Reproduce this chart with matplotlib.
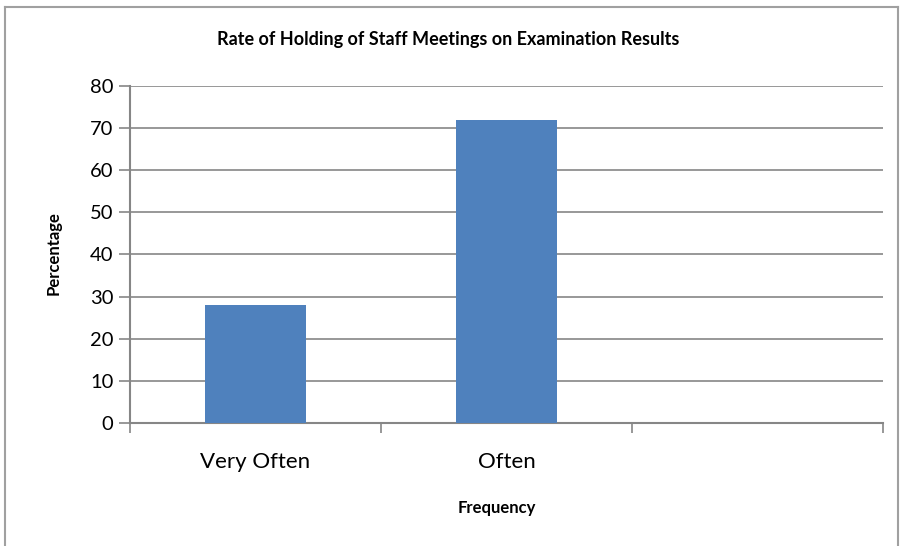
import matplotlib.pyplot as plt

# Données
categories = ["Very Often", "Often", ""]
percentages = [28, 72, 0]
y_ticks = [0, 10, 20, 30, 40, 50, 60, 70, 80]

plt.rcParams['font.family'] = ['Lato', 'DejaVu Sans']

fig = plt.figure(figsize=(9.02, 5.46), dpi=100)
ax = fig.add_axes([0.1441, 0.2253, 0.8348, 0.6172])

grey = '#868686'
x = list(range(len(categories)))
ax.bar(x[:2], percentages[:2], width=0.4, color='#4F81BD', zorder=3)

ax.set_xlim(-0.5, len(categories) - 0.5)
ax.set_ylim(0, 80)
ax.set_yticks(y_ticks)
ax.set_yticklabels([str(v) for v in y_ticks], fontsize=14.5)
ax.yaxis.grid(True, color=grey, linewidth=1.2, zorder=0)

# graduations de l'axe x entre les catégories
ax.set_xticks(x)
ax.set_xticklabels(categories, fontsize=16)
ax.tick_params(axis='x', which='major', length=0, pad=21)
ax.set_xticks([i - 0.5 for i in range(len(categories) + 1)], minor=True)
ax.tick_params(axis='x', which='minor', length=7, color=grey, width=1.2)
ax.tick_params(axis='y', length=8, color=grey, width=1.2, pad=4)

for side in ['top', 'right']:
    ax.spines[side].set_visible(False)
for side in ['left', 'bottom']:
    ax.spines[side].set_color(grey)
    ax.spines[side].set_linewidth(1.5)

# titres des axes placés à la main
ax.text(0.487, -0.252, "Frequency", transform=ax.transAxes, fontsize=12,
        fontweight='bold', ha='center', va='center')
ax.text(-0.101, 0.503, "Percentage", transform=ax.transAxes, fontsize=12,
        fontweight='bold', ha='center', va='center', rotation=90)
fig.text(0.497, 0.927, "Rate of Holding of Staff Meetings on Examination Results",
         fontsize=13, fontweight='bold', ha='center', va='center')

# bordure du cadre (pas de bord en bas)
fig.add_artist(plt.Line2D([0.006, 0.006], [0, 0.988], color='#a0a0a0', lw=1.5))
fig.add_artist(plt.Line2D([0.006, 0.996], [0.988, 0.988], color='#a0a0a0', lw=1.5))
fig.add_artist(plt.Line2D([0.996, 0.996], [0, 0.988], color='#a0a0a0', lw=1.5))

fig.savefig("out.png", dpi=100)
